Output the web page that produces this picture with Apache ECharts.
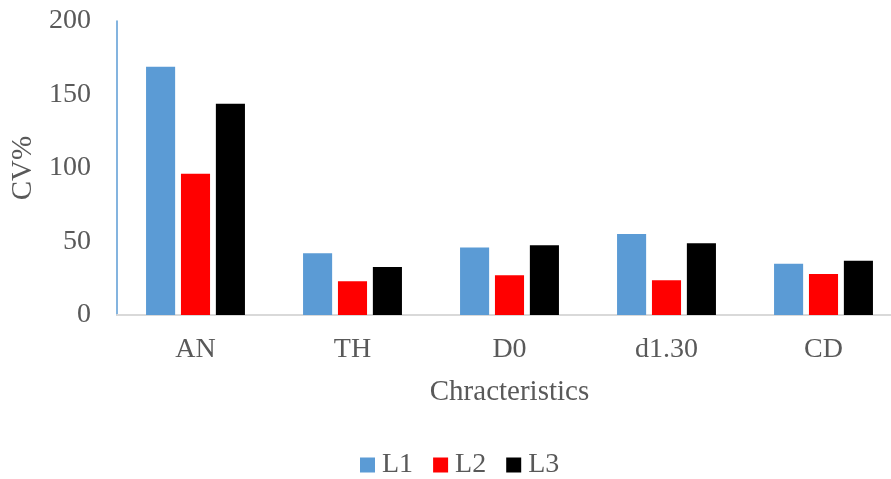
<!DOCTYPE html>
<html>
<head>
<meta charset="utf-8">
<script src="https://cdn.jsdelivr.net/npm/echarts@6/dist/echarts.min.js"></script>
<style>html,body{margin:0;padding:0;background:#fff;}#chart{width:891px;height:479px;}</style>
</head>
<body>
<div id="chart"></div>
<script>
const categories = ['AN', 'TH', 'D0', 'd1.30', 'CD'];
const seriesNames = ['L1', 'L2', 'L3'];
const L1 = [168.9, 42.0, 46.0, 55.1, 34.9];
const L2 = [96.1, 22.9, 27.0, 23.6, 27.9];
const L3 = [143.7, 32.7, 47.4, 48.8, 36.9];
const yTicks = [0, 50, 100, 150, 200];
const colors = ['#5b9bd5', '#ff0000', '#000000'];

const font = 'Liberation Serif';
const txt = '#595959';
const chart = echarts.init(document.getElementById('chart'));
const data = [L1, L2, L3];
chart.setOption({
  animation: false,
  textStyle: { fontFamily: font },
  grid: { left: 117, width: 785, top: 21, bottom: 164, containLabel: false, outerBoundsMode: 'none' },
  legend: {
    data: seriesNames,
    bottom: 0,
    padding: 0,
    left: 360,
    itemWidth: 15, itemHeight: 15, itemGap: 20,
    icon: 'rect',
    textStyle: { fontFamily: font, fontSize: 28, color: txt, padding: [0, 0, 0, 2] }
  },
  xAxis: {
    type: 'category',
    data: categories,
    name: 'Chracteristics',
    nameLocation: 'middle',
    nameGap: 63,
    nameTextStyle: { fontFamily: font, fontSize: 29, color: txt },
    axisLine: { lineStyle: { color: '#d9d9d9', width: 2 } },
    axisTick: { show: false },
    axisLabel: { fontFamily: font, fontSize: 28, color: txt, margin: 21 }
  },
  yAxis: {
    type: 'value',
    min: yTicks[0], max: yTicks[yTicks.length - 1], interval: 50,
    name: 'CV%',
    nameLocation: 'middle',
    nameGap: 78,
    nameTextStyle: { fontFamily: font, fontSize: 29, color: txt },
    axisLine: { show: true, lineStyle: { color: '#5b9bd5', width: 1.5 } },
    axisTick: { show: false },
    splitLine: { show: false },
    axisLabel: { fontFamily: font, fontSize: 28, color: txt, margin: 26 }
  },
  series: seriesNames.map((n, i) => ({
    name: n,
    type: 'bar',
    data: data[i],
    barGap: '20%',
    barCategoryGap: '37%',
    itemStyle: { color: colors[i] }
  }))
});
</script>
</body>
</html>
